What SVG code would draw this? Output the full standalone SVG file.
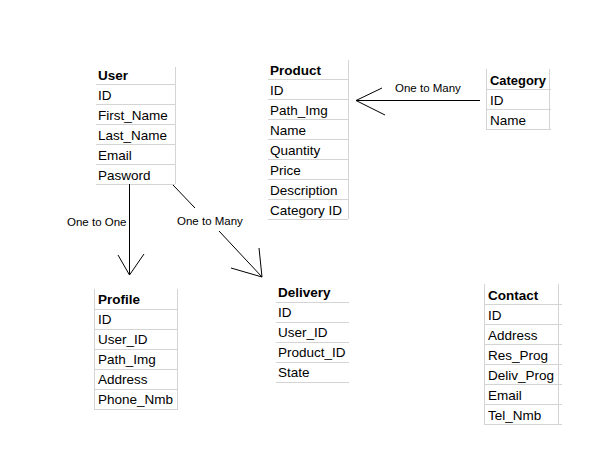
<svg xmlns="http://www.w3.org/2000/svg" width="596" height="470" viewBox="0 0 596 470">
<style>
.grid{stroke:#d4d4d4;stroke-width:1;fill:none}
.t{font-family:"Liberation Sans",Arial,sans-serif;font-size:13.5px;fill:#000}
.h{font-weight:bold}
.lbl{font-family:"Liberation Sans",Arial,sans-serif;font-size:11.5px;fill:#000}
.conn{stroke:#000;stroke-width:1;fill:none}
</style>
<rect width="596" height="470" fill="#fff"/>
<g id="user">
<path class="grid" d="M175.5,67V184M96,84.5H175M96,104.5H175M96,124.5H175M96,144.5H175M96,164.5H175M96,184.5H175"/>
<text class="t h" x="98" y="80">User</text>
<text class="t" x="98" y="100">ID</text>
<text class="t" x="98" y="120">First_Name</text>
<text class="t" x="98" y="140">Last_Name</text>
<text class="t" x="98" y="160">Email</text>
<text class="t" x="98" y="180">Pasword</text>
</g>
<g id="product">
<path class="grid" d="M348.5,60V219M268,79.5H348M268,99.5H348M268,119.5H348M268,139.5H348M268,159.5H348M268,179.5H348M268,199.5H348M268,219.5H348"/>
<text class="t h" x="270" y="75">Product</text>
<text class="t" x="270" y="95">ID</text>
<text class="t" x="270" y="115">Path_Img</text>
<text class="t" x="270" y="135">Name</text>
<text class="t" x="270" y="155">Quantity</text>
<text class="t" x="270" y="175">Price</text>
<text class="t" x="270" y="195">Description</text>
<text class="t" x="270" y="215">Category ID</text>
</g>
<g id="category">
<path class="grid" d="M486.5,69V129M549.5,69V129M486,89.5H551M486,109.5H551M486,129.5H551"/>
<text class="t h" x="490" y="85" textLength="56" lengthAdjust="spacingAndGlyphs">Category</text>
<text class="t" x="490" y="105">ID</text>
<text class="t" x="490" y="125">Name</text>
</g>
<g id="profile">
<path class="grid" d="M94.5,289V409M177.5,289V409M94,309.5H178M94,329.5H178M94,349.5H178M94,369.5H178M94,389.5H178M94,409.5H178"/>
<text class="t h" x="98" y="304">Profile</text>
<text class="t" x="98" y="324">ID</text>
<text class="t" x="98" y="344">User_ID</text>
<text class="t" x="98" y="364">Path_Img</text>
<text class="t" x="98" y="384">Address</text>
<text class="t" x="98" y="404">Phone_Nmb</text>
</g>
<g id="delivery">
<path class="grid" d="M276,302.5H349M276,322.5H349M276,342.5H349M276,362.5H349M276,382.5H349"/>
<text class="t h" x="278" y="297">Delivery</text>
<text class="t" x="278" y="317">ID</text>
<text class="t" x="278" y="337">User_ID</text>
<text class="t" x="278" y="357">Product_ID</text>
<text class="t" x="278" y="377">State</text>
</g>
<g id="contact">
<path class="grid" d="M484.5,284V424M558.5,284V424M484,304.5H562M484,324.5H562M484,344.5H562M484,364.5H562M484,384.5H562M484,404.5H562M484,424.5H562"/>
<text class="t h" x="488" y="300">Contact</text>
<text class="t" x="488" y="320">ID</text>
<text class="t" x="488" y="340">Address</text>
<text class="t" x="488" y="360">Res_Prog</text>
<text class="t" x="488" y="380">Deliv_Prog</text>
<text class="t" x="488" y="400">Email</text>
<text class="t" x="488" y="420">Tel_Nmb</text>
</g>
<g id="connectors">
<path class="conn" d="M480,100.5H356M382,88L356,100.5L385,115"/>
<text class="lbl" x="395" y="92">One to Many</text>
<path class="conn" d="M129.5,184V275M118,255L129.5,275L144,254"/>
<text class="lbl" x="67" y="226">One to One</text>
<path class="conn" d="M173,185L195,208M219,231L262,277M259,248L262,277L231,268"/>
<text class="lbl" x="177" y="225">One to Many</text>
</g>
</svg>
